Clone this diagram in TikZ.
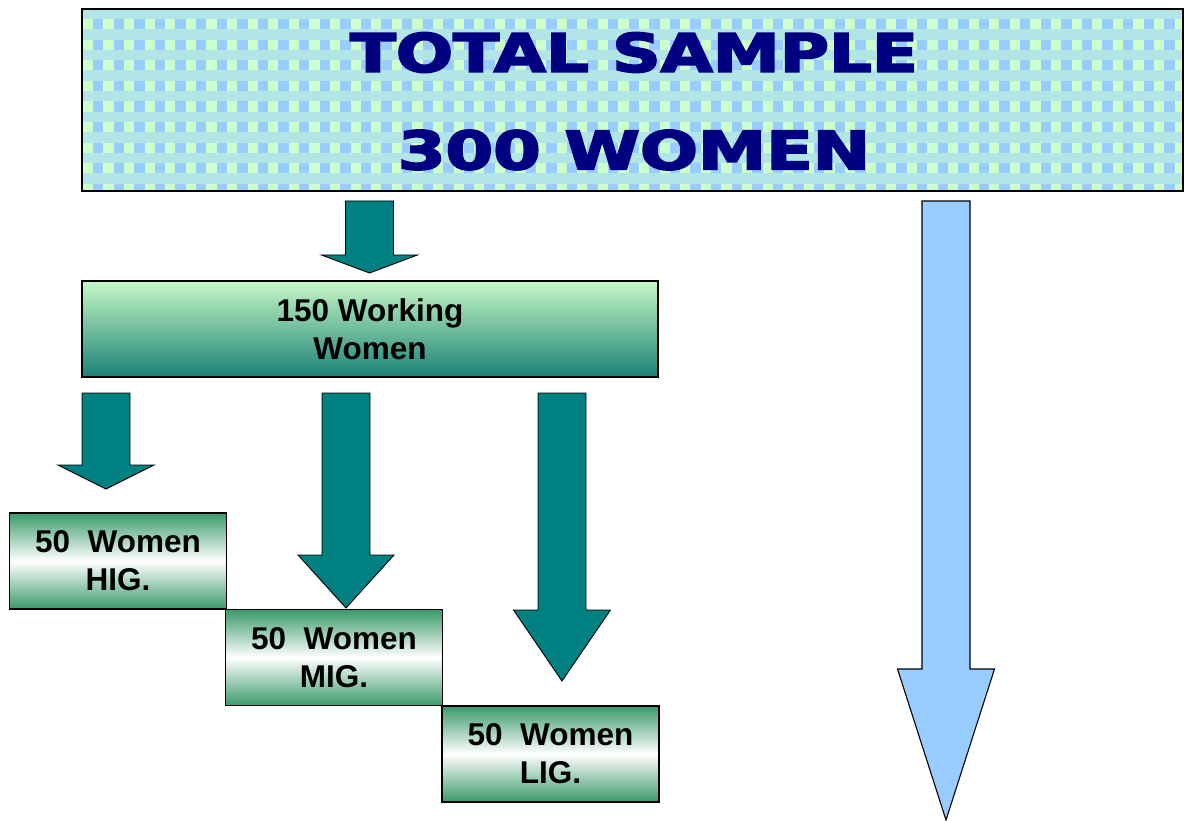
\documentclass[tikz,border=0pt]{standalone}
\usepackage{fontspec}
\setmainfont{Liberation Sans}
\newfontfamily\titlefont{DejaVu Sans}[BoldFeatures={FakeBold=3.2}]
\usepackage{graphicx}
\definecolor{tealA}{HTML}{008080}
\definecolor{navyT}{HTML}{000080}
\definecolor{pblue}{HTML}{99CCFF}
\definecolor{pgreen}{HTML}{CCFFCC}
\definecolor{boxgreen}{HTML}{3A9A6A}
\definecolor{wtop}{HTML}{C6F7C6}
\definecolor{wbot}{HTML}{1B8276}
\newcommand\downblock[7]{% style, xc, top, headY, tip, shaftHalf, headHalf
  \draw[#1] ({#2-#6},#3) -- ({#2+#6},#3) -- ({#2+#6},#4) -- ({#2+#7},#4) -- (#2,#5) -- ({#2-#7},#4) -- ({#2-#6},#4) -- cycle;}
\tikzset{
  boxtext/.style={align=center, font=\bfseries\fontsize{31.5}{38}\selectfont, text=black},
  workbox/.style={boxtext, draw=black, line width=1.3pt, minimum width=576pt, minimum height=96pt, inner sep=0pt,
    top color=wtop, bottom color=wbot, shading angle=0},
  incbox/.style={boxtext, draw=black, line width=1.3pt, minimum width=217pt, minimum height=96pt, inner sep=0pt,
    top color=boxgreen, bottom color=boxgreen, middle color=white},
  tealarrow/.style={fill=tealA, draw=black, line width=0.9pt, line join=miter},
  bluearrow/.style={fill=pblue, draw=black, line width=1.1pt, line join=miter},
  titletext/.style={inner sep=0pt, text=navyT, font=\titlefont\bfseries\fontsize{53}{53}\selectfont}
}
\begin{document}
\begin{tikzpicture}[x=1pt,y=-1pt]
\useasboundingbox (0,0) rectangle (1187,821);
\fill[white] (0,0) rectangle (1187,821);
% title box pattern
\begin{scope}
  \clip (82,9) rectangle (1183,191);
  \fill[pblue!50!pgreen] (82,9) rectangle (1183,191);
  \foreach \r in {0,...,8} {
    \foreach \c in {0,...,54} {
      \fill[pblue] ({72.4+20.6*\c},{19+20.6*\r}) rectangle +(10.3,10.3);
      \fill[pgreen] ({82.7+20.6*\c},{19+20.6*\r}) rectangle +(10.3,10.3);
    }
  }
\end{scope}
\node[draw=black, line width=1.4pt, minimum width=1101pt, minimum height=182pt, inner sep=0pt] (total) at (632.5,100) {};
\node[titletext] (t1) at (634,52.5) {\scalebox{1.27}[1]{TOTAL SAMPLE}};
\node[titletext] (t2) at (634,150) {\scalebox{1.29}[1]{300 WOMEN}};
% arrows
\downblock{tealarrow}{369.5}{201}{255}{273}{24}{48}
\downblock{bluearrow}{946}{201}{669}{820}{24}{48.5}
\downblock{tealarrow}{106}{393}{465}{489}{24}{48}
\downblock{tealarrow}{346}{393}{555}{608}{24}{48}
\downblock{tealarrow}{562}{393}{610}{681}{24}{48.5}
% boxes
\node[workbox] (work) at (370,329) {150 Working\\Women};
\node[incbox] (hig) at (118,561) {50\ \ Women\\HIG.};
\node[incbox] (mig) at (334,657.5) {50\ \ Women\\MIG.};
\node[incbox] (lig) at (550.5,754) {50\ \ Women\\LIG.};
\end{tikzpicture}
\end{document}
